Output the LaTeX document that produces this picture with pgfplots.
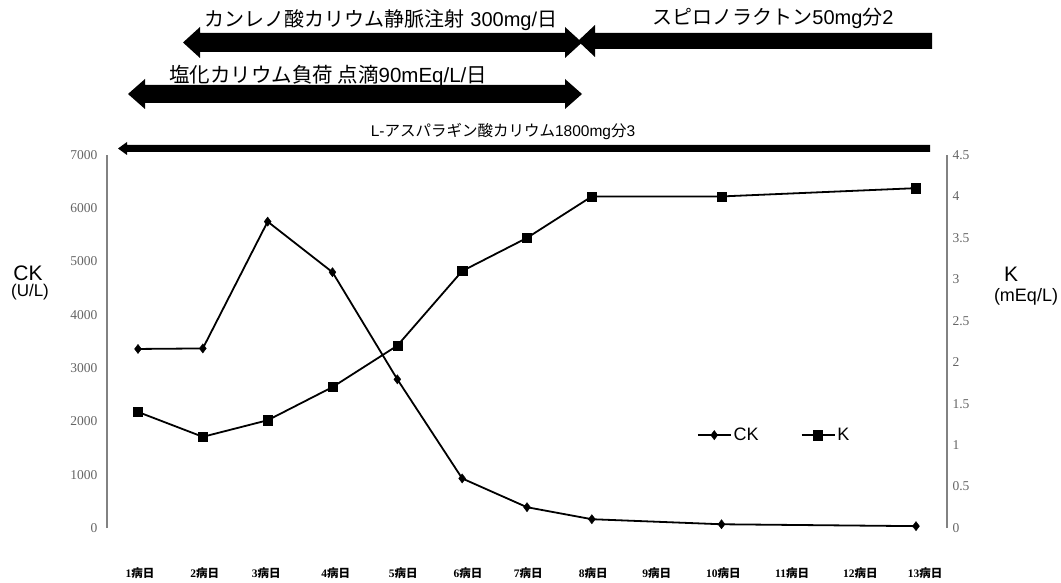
\documentclass[border=0pt]{standalone}
\usepackage{fontspec}
\usepackage{pgfplots}
\pgfplotsset{compat=1.18}
\setmainfont{Liberation Sans}
\newfontfamily\cjk{Noto Sans CJK JP}
\newfontfamily\tickfont{Liberation Serif}
\definecolor{tickgrey}{RGB}{100,100,100}
\definecolor{axgrey}{RGB}{130,130,130}
\newcommand{\fs}[1]{\fontsize{#1}{#1}\selectfont}
\newcommand{\bd}[1]{{\tickfont\bfseries #1}{\cjk\bfseries 病日}}
\begin{document}
\begin{tikzpicture}
\useasboundingbox (0,0) rectangle (1061pt,582pt);
\begin{axis}[
  at={(107pt,54pt)}, anchor=south west,
  width=840pt, height=373pt, scale only axis,
  xmin=0.522, xmax=13.478, ymin=0, ymax=7000,
  axis y line*=left, axis x line*=bottom,
  x axis line style={draw=none},
  y axis line style={draw=axgrey, line width=1.4pt},
  major tick length=0pt,
  ytick={0,1000,...,7000},
  /pgf/number format/assume math mode=true,
  /pgf/number format/set thousands separator={},
  yticklabel style={font=\tickfont\fs{13.5pt}, text=tickgrey, xshift=-6pt},
  xtick={1.03,2.03,2.98,4.05,5.09,6.09,7.02,8.02,9.0,10.03,11.09,12.14,13.14},
  xticklabels={\bd{1},\bd{2},\bd{3},\bd{4},\bd{5},\bd{6},\bd{7},\bd{8},\bd{9},\bd{10},\bd{11},\bd{12},\bd{13}},
  xticklabel style={font=\fs{11.5pt}, text=black, yshift=-36pt},
  clip=false,
]
\addplot[black, line width=1.8pt, mark=diamond*, mark size=4.6pt, mark options={solid, line width=0.4pt}]
  coordinates {(1,3360) (2,3370) (3,5750) (4,4800) (5,2790) (6,930) (7,390) (8,165) (10,70) (13,35)};
\end{axis}
\begin{axis}[
  at={(107pt,54pt)}, anchor=south west,
  width=840pt, height=373pt, scale only axis,
  xmin=0.522, xmax=13.478, ymin=0, ymax=4.5,
  axis y line*=right, axis x line=none,
  y axis line style={draw=axgrey, line width=1.4pt},
  major tick length=0pt,
  ytick={0,0.5,...,4.5},
  /pgf/number format/assume math mode=true,
  /pgf/number format/fixed,
  yticklabel style={font=\tickfont\fs{13.5pt}, text=tickgrey, xshift=2pt},
  clip=false,
  legend columns=2,
  legend style={draw=none, fill=none, at={(0.702,0.249)}, anchor=west,
    font=\fs{18pt}, inner sep=0pt, column sep=0pt,
    /tikz/every even column/.append style={column sep=40pt}},
  legend image code/.code={\draw[mark repeat=2,mark phase=2,#1] plot coordinates {(0pt,0pt) (16.5pt,0pt) (33pt,0pt)};},
]
\addlegendimage{black, line width=1.8pt, mark=diamond*, mark size=4.6pt, mark options={solid, line width=0.4pt}}
\addlegendentry{CK}
\addplot[black, line width=1.8pt, mark=square*, mark size=4.6pt, mark options={solid, line width=0.4pt}]
  coordinates {(1,1.4) (2,1.1) (3,1.3) (4,1.7) (5,2.2) (6,3.1) (7,3.5) (8,4.0) (10,4.0) (13,4.1)};
\addlegendentry{K}
\end{axis}
\begin{scope}[x=1pt, y=-1pt, shift={(0pt,582pt)}]
  % arrows
  \fill[black] (183,42.5) -- (200,27) -- (200,33) -- (565,33) -- (565,27) -- (582,42.5) -- (565,58) -- (565,52) -- (200,52) -- (200,58) -- cycle;
  \fill[black] (578,41) -- (595,25) -- (595,33) -- (932,33) -- (932,49) -- (595,49) -- (595,57) -- cycle;
  \fill[black] (128,94) -- (145,79) -- (145,85) -- (565,85) -- (565,79) -- (582,94) -- (565,109) -- (565,103) -- (145,103) -- (145,109) -- cycle;
  \fill[black] (118,148.5) -- (127,142) -- (127,145) -- (930,145) -- (930,152) -- (127,152) -- (127,155) -- cycle;
  % texts
  \node[inner sep=0pt, font=\fs{20pt}] at (381,20) {{\cjk カンレノ酸カリウム静脈注射} 300mg/{\cjk 日}};
  \node[inner sep=0pt, font=\fs{20pt}] at (773,18) {{\cjk スピロノラクトン}50mg{\cjk 分}2};
  \node[inner sep=0pt, font=\fs{20.5pt}] at (328,76) {{\cjk 塩化カリウム負荷 点滴}90mEq/L/{\cjk 日}};
  \node[inner sep=0pt, font=\fs{15.5pt}] at (503,132) {L-{\cjk アスパラギン酸カリウム}1800mg{\cjk 分}3};
  % axis titles
  \node[inner sep=0pt, font=\fs{21pt}] at (28,273) {CK};
  \node[inner sep=0pt, font=\fs{17pt}] at (30,292) {(U/L)};
  \node[inner sep=0pt, font=\fs{21pt}] at (1011,274) {K};
  \node[inner sep=0pt, font=\fs{18pt}] at (1026,297) {(mEq/L)};
\end{scope}
\end{tikzpicture}
\end{document}
